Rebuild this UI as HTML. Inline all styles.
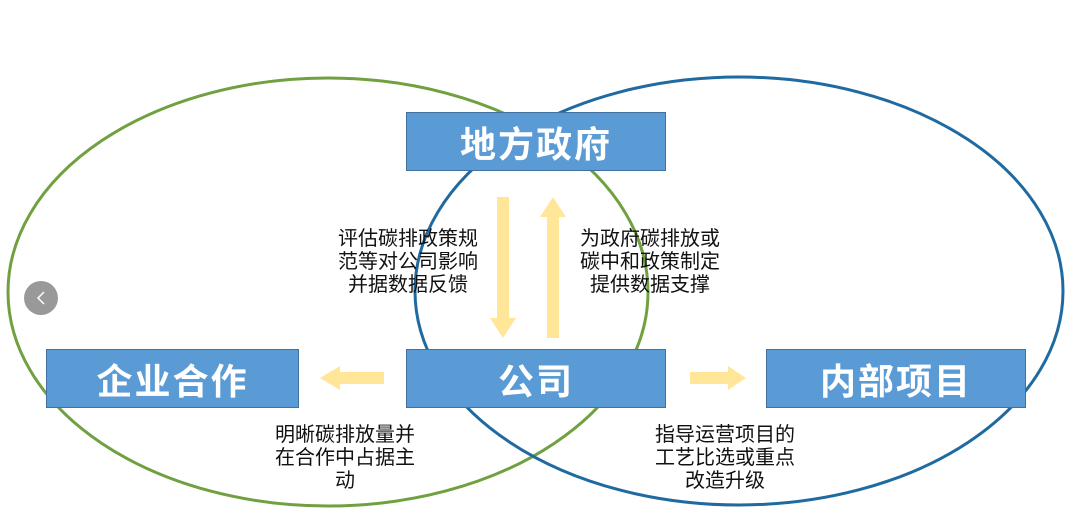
<!DOCTYPE html>
<html><head><meta charset="utf-8"><style>
body{margin:0;width:1073px;height:522px;background:#fff;overflow:hidden;position:relative;font-family:"Liberation Sans","Noto Sans CJK SC",sans-serif}
.box{position:absolute;background:#5b9bd5;border:1px solid #41719c;box-sizing:border-box;color:#fff;font-weight:bold;font-size:36px;display:flex;align-items:center;justify-content:center;letter-spacing:2px}
.lbl{position:absolute;font-size:20px;line-height:23px;color:#111;text-align:center;width:200px}
</style></head><body>
<svg width="1073" height="522" style="position:absolute;left:0;top:0">
<ellipse cx="328" cy="292" rx="320" ry="214" fill="none" stroke="#70a040" stroke-width="3"/>
<ellipse cx="739" cy="291" rx="324" ry="214" fill="none" stroke="#1f6aa0" stroke-width="3"/>
<g fill="#ffe699">
<polygon points="497,197 509,197 509,318 516,318 503,338 490,318 497,318"/>
<polygon points="547,338 559,338 559,217 566,217 553,197 540,217 547,217"/>
<polygon points="384,372 384,384 340,384 340,390 320,378 340,366 340,372"/>
<polygon points="690,372 690,384 728,384 728,390 746,378 728,366 728,372"/>
</g>
<circle cx="41" cy="298" r="17" fill="#999"/>
<polyline points="44,292 38,298 44,304" fill="none" stroke="#fff" stroke-width="1.5"/>
</svg>
<div class="box" style="left:406px;top:112px;width:260px;height:59px">地方政府</div>
<div class="box" style="left:406px;top:349px;width:260px;height:59px">公司</div>
<div class="box" style="left:46px;top:349px;width:253px;height:59px">企业合作</div>
<div class="box" style="left:766px;top:349px;width:260px;height:59px">内部项目</div>
<div class="lbl" style="left:308px;top:228px">评估碳排政策规<br>范等对公司影响<br>并据数据反馈</div>
<div class="lbl" style="left:550px;top:228px">为政府碳排放或<br>碳中和政策制定<br>提供数据支撑</div>
<div class="lbl" style="left:245px;top:424px">明晰碳排放量并<br>在合作中占据主<br>动</div>
<div class="lbl" style="left:625px;top:424px">指导运营项目的<br>工艺比选或重点<br>改造升级</div>
</body></html>
